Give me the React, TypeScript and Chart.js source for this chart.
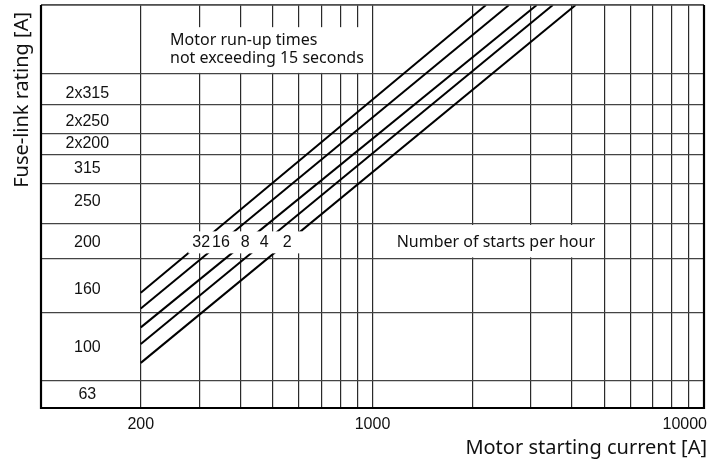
import React, { useEffect, useRef } from 'react';
import { Chart, registerables } from 'chart.js';

Chart.register(...registerables);

// ---- data ----
const currentGrid = [100, 200, 300, 400, 500, 600, 700, 800, 900, 1000, 2000, 3000, 4000, 5000, 6000, 7000, 8000, 9000, 10000];
const currentLabels = [200, 1000, 10000];
const fuseRatings = ['63', '100', '160', '200', '250', '315', '2x200', '2x250', '2x315'];
const ratingRowEdges = [0, 6.7, 23.6, 37.0, 45.8, 55.6, 63.0, 68.2, 75.2, 82.9, 100];
const ratingLabelPos = [3.35, 15.1, 29.3, 41.1, 51.1, 59.4, 65.5, 71.0, 78.0];
const startsPerHour = ['32', '16', '8', '4', '2'];
const curveStartCurrent = [200, 200, 200, 200, 200];
const curveStartRating = [28.6, 24.7, 20.0, 15.9, 11.2];
const curveEndCurrent = [2200, 2580, 3130, 3500, 4100];
const curveEndRating = [100, 100, 100, 100, 100];

const TICK_FONT = '"Liberation Sans", Arial, sans-serif';
const TEXT_FONT = '"Noto Sans", "Open Sans", sans-serif';

const annotationPlugin = {
  id: 'fuseAnnotations',
  afterDatasetsDraw(chart: any) {
    const { ctx, chartArea: a, scales } = chart;
    const xs = scales.x;
    const ys = scales.y;
    ctx.save();
    ctx.fillStyle = '#ffffff';

    // box: Motor run-up times
    const b1l = xs.getPixelForValue(206);
    const b1r = xs.getPixelForValue(968);
    const b1t = ys.getPixelForValue(94.5);
    const b1b = ys.getPixelForValue(ratingRowEdges[9]) - 1;
    ctx.fillRect(b1l, b1t, b1r - b1l, b1b - b1t);

    // box: Number of starts per hour
    const b3l = xs.getPixelForValue(1144);
    const b3r = xs.getPixelForValue(4850);
    const b3t = ys.getPixelForValue(ratingRowEdges[4]) + 1.5;
    const b3b = ys.getPixelForValue(ratingRowEdges[3]) - 1.5;
    ctx.fillRect(b3l, b3t, b3r - b3l, b3b - b3t);

    // starts labels on the curves
    const rowY = ys.getPixelForValue(ratingLabelPos[3]);
    const lx: number[] = startsPerHour.map((_, i) => {
      const x0 = xs.getPixelForValue(curveStartCurrent[i]);
      const y0 = ys.getPixelForValue(curveStartRating[i]);
      const x1 = xs.getPixelForValue(curveEndCurrent[i]);
      const y1 = ys.getPixelForValue(curveEndRating[i]);
      const t = (rowY - y0) / (y1 - y0);
      return x0 + t * (x1 - x0);
    });
    ctx.fillRect(lx[0] - 13, rowY - 11, lx[lx.length - 1] + 15 - (lx[0] - 13), 22);

    ctx.fillStyle = '#111111';
    ctx.textBaseline = 'middle';
    ctx.font = '16px ' + TICK_FONT;
    ctx.textAlign = 'center';
    startsPerHour.forEach((s, i) => ctx.fillText(s, lx[i], rowY));

    ctx.font = '16px ' + TEXT_FONT;
    ctx.textAlign = 'left';
    const tx = xs.getPixelForValue(245);
    ctx.fillText('Motor run-up times', tx, ys.getPixelForValue(91.3));
    ctx.fillText('not exceeding 15 seconds', tx, ys.getPixelForValue(86.8));

    ctx.textAlign = 'center';
    ctx.fillText('Number of starts per hour', (b3l + b3r) / 2, rowY);

    // fuse rating labels
    ctx.font = '16px ' + TICK_FONT;
    const rx = xs.getPixelForValue(138);
    fuseRatings.forEach((r, i) => ctx.fillText(r, rx, ys.getPixelForValue(ratingLabelPos[i])));

    // current labels
    ctx.font = '16px ' + TICK_FONT;
    const ly = a.bottom + 17;
    currentLabels.forEach((v) => {
      const px = xs.getPixelForValue(v);
      const w = ctx.measureText(String(v)).width;
      let cx = px;
      if (cx + w / 2 > a.right + 3) cx = a.right + 3 - w / 2;
      ctx.fillText(String(v), cx, ly);
    });

    // axis titles
    ctx.font = '20px ' + TEXT_FONT;
    ctx.textAlign = 'right';
    ctx.fillText('Motor starting current [A]', a.right + 3, a.bottom + 40);
    ctx.save();
    ctx.translate(22, a.top + 7);
    ctx.rotate(-Math.PI / 2);
    ctx.textAlign = 'right';
    ctx.fillText('Fuse-link rating [A]', 0, 0);
    ctx.restore();

    ctx.restore();
  },
  afterDraw(chart: any) {
    const { ctx, chartArea: a } = chart;
    ctx.save();
    ctx.strokeStyle = '#555555';
    ctx.lineWidth = 1.5;
    ctx.beginPath();
    ctx.moveTo(a.left, a.top);
    ctx.lineTo(a.right, a.top);
    ctx.stroke();
    ctx.strokeStyle = '#000000';
    ctx.lineWidth = 2.2;
    ctx.beginPath();
    ctx.moveTo(a.left, a.top);
    ctx.lineTo(a.left, a.bottom);
    ctx.lineTo(a.right, a.bottom);
    ctx.lineTo(a.right, a.top);
    ctx.stroke();
    ctx.restore();
  },
};

export default function App() {
  const ref = useRef<HTMLCanvasElement | null>(null);
  useEffect(() => {
    if (!ref.current) return;
    const datasets = startsPerHour.map((s, i) => ({
      label: s,
      data: [
        { x: curveStartCurrent[i], y: curveStartRating[i] },
        { x: curveEndCurrent[i], y: curveEndRating[i] },
      ],
      borderColor: '#000000',
      borderWidth: 2,
      pointRadius: 0,
      fill: false,
      tension: 0,
    }));
    const chart = new Chart(ref.current, {
      type: 'line',
      data: { datasets },
      plugins: [annotationPlugin],
      options: {
        animation: false,
        responsive: false,
        layout: { padding: { top: 5, right: 21, left: 0, bottom: 0 } },
        plugins: { legend: { display: false }, tooltip: { enabled: false }, title: { display: false } },
        scales: {
          x: {
            type: 'logarithmic',
            min: 100,
            max: 10000,
            afterBuildTicks: (s: any) => {
              s.ticks = currentGrid.map((v) => ({ value: v }));
            },
            afterFit: (s: any) => {
              s.height = 55;
            },
            ticks: { display: false },
            grid: { color: '#2a2a2a', lineWidth: 1.2, drawTicks: false },
            border: { display: false },
          },
          y: {
            type: 'linear',
            min: 0,
            max: 100,
            afterBuildTicks: (s: any) => {
              s.ticks = ratingRowEdges.map((v) => ({ value: v }));
            },
            afterFit: (s: any) => {
              s.width = 41;
            },
            ticks: { display: false },
            grid: { color: '#444444', lineWidth: 1.2, drawTicks: false },
            border: { display: false },
          },
        },
      },
    } as any);
    return () => chart.destroy();
  }, []);
  return (
    <div style={{ position: 'fixed', left: 0, top: 0, width: 725, height: 463, background: '#fff' }}>
      <canvas ref={ref} width={725} height={463} style={{ display: 'block' }} />
    </div>
  );
}
